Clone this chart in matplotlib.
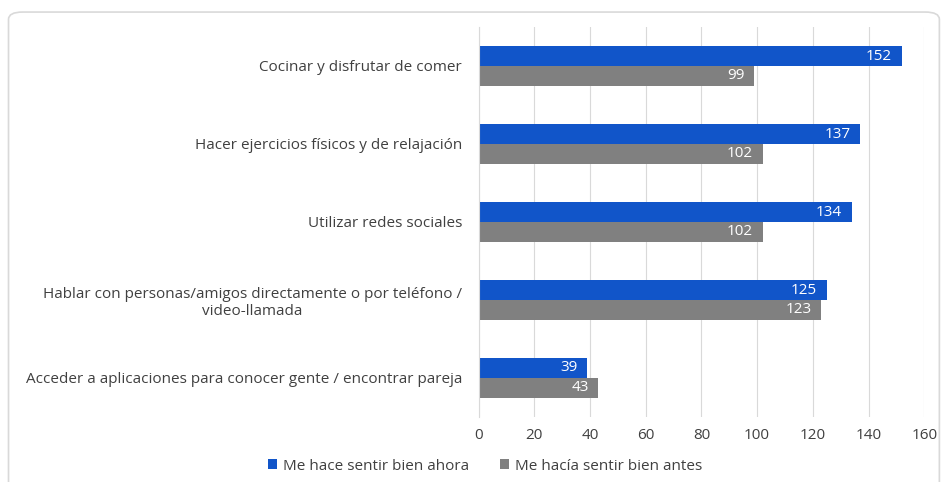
import numpy as np
import matplotlib.pyplot as plt
from matplotlib.patches import FancyBboxPatch

plt.rcParams['font.family'] = ['Open Sans', 'DejaVu Sans']

categorias = [
    "Cocinar y disfrutar de comer",
    "Hacer ejercicios físicos y de relajación",
    "Utilizar redes sociales",
    "Hablar con personas/amigos directamente o por teléfono /\nvideo-llamada",
    "Acceder a aplicaciones para conocer gente / encontrar pareja",
]
ahora = [152, 137, 134, 125, 39]
antes = [99, 102, 102, 123, 43]
series_nombres = ["Me hace sentir bien ahora", "Me hacía sentir bien antes"]

azul = '#1155c9'
gris = '#808080'
texto = '#404040'

fig = plt.figure(figsize=(9.46, 4.82), dpi=100)
ax = fig.add_axes([0.506, 0.135, 0.471, 0.809])

# marco redondeado
marco = FancyBboxPatch((0.009, -0.05), 0.984, 1.025, boxstyle="round,pad=0,rounding_size=0.015",
                       transform=fig.transFigure, facecolor='white', edgecolor='#d9d9d9',
                       linewidth=1.2, zorder=-10)
fig.patches.append(marco)

y = np.arange(len(categorias))
h = 0.255
b1 = ax.barh(y - h / 2, ahora, height=h, color=azul, label=series_nombres[0])
b2 = ax.barh(y + h / 2, antes, height=h, color=gris, label=series_nombres[1])

for barras in (b1, b2):
    for r in barras:
        v = r.get_width()
        ax.text(v - 3.5, r.get_y() + r.get_height() / 2, f"{v:.0f}", ha='right', va='center',
                color='white', fontsize=11)

ax.set_ylim(len(categorias) - 0.5, -0.5)
ax.set_xlim(0, 160)
ax.set_xticks(np.arange(0, 161, 20))
ax.set_yticks(y)
ax.set_yticklabels(categorias, fontsize=11, color=texto, ha='right', multialignment='center')
ax.tick_params(axis='y', length=0, pad=12)
ax.tick_params(axis='x', length=0, labelsize=11, labelcolor=texto, pad=8)
ax.grid(axis='x', color='#d9d9d9', linewidth=0.8)
ax.set_axisbelow(True)
for s in ['top', 'right', 'bottom']:
    ax.spines[s].set_visible(False)
ax.spines['left'].set_color('#d9d9d9')

fig.legend(handles=[b1, b2], loc='center', bbox_to_anchor=(0.513, 0.033), ncol=2, frameon=False,
           fontsize=11, labelcolor=texto, handlelength=0.6, handleheight=0.6, handletextpad=0.4,
           columnspacing=2.0)

plt.savefig('out.png', dpi=100)
